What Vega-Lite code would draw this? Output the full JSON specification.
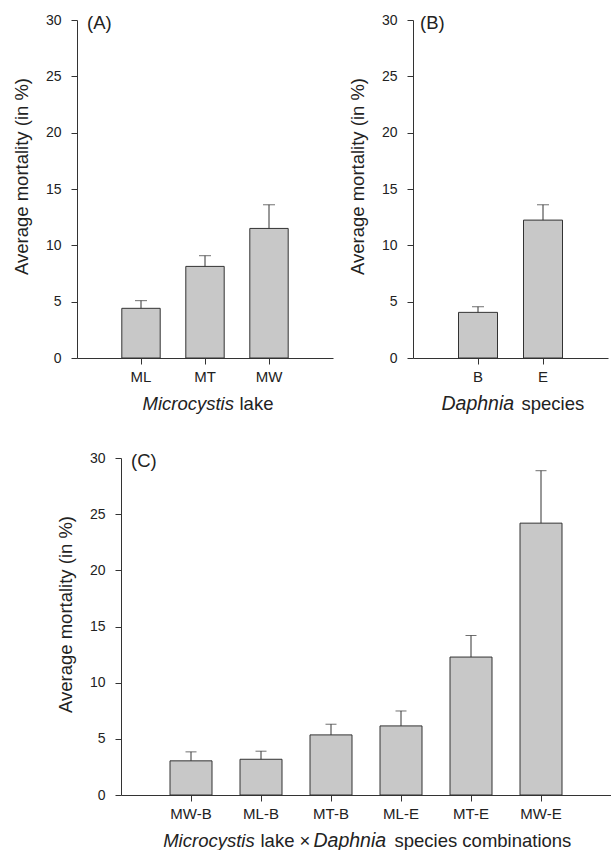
{
  "$schema": "https://vega.github.io/schema/vega-lite/v6.json",
  "background": "white",
  "padding": {"left": 11, "top": 13, "right": 0, "bottom": 0},
  "spacing": 38,
  "datasets": {
    "lake": [
      {"lake": "ML", "mean": 4.41, "upper": 5.09},
      {"lake": "MT", "mean": 8.13, "upper": 9.08},
      {"lake": "MW", "mean": 11.5, "upper": 13.6}
    ],
    "species": [
      {"species": "B", "mean": 4.05, "upper": 4.55},
      {"species": "E", "mean": 12.24, "upper": 13.6}
    ],
    "combo": [
      {"combo": "MW-B", "mean": 3.04, "upper": 3.84},
      {"combo": "ML-B", "mean": 3.18, "upper": 3.9},
      {"combo": "MT-B", "mean": 5.35, "upper": 6.3},
      {"combo": "ML-E", "mean": 6.15, "upper": 7.48},
      {"combo": "MT-E", "mean": 12.28, "upper": 14.2},
      {"combo": "MW-E", "mean": 24.2, "upper": 28.87}
    ]
  },
  "vconcat": [
    {
      "spacing": 0,
      "hconcat": [
        {
          "width": 1,
          "height": 10,
          "data": {"values": []},
          "mark": {"type": "point", "opacity": 0},
          "encoding": {}
        },
        {
          "spacing": 15,
          "hconcat": [
            {
              "width": 256,
              "height": 338,
              "title": {"text": "(A)", "anchor": "start", "frame": "group", "offset": -14, "dx": 10, "dy": 20, "fontSize": 18.5, "fontWeight": "normal", "baseline": "alphabetic", "color": "#222", "font": "Liberation Sans"},
              "data": {"name": "lake"},
              "resolve": {"axis": {"x": "independent"}},
              "layer": [
                {
                  "mark": {"type": "bar", "fill": "#c8c8c8", "stroke": "#333", "strokeWidth": 1},
                  "encoding": {
                    "x": {"field": "lake", "type": "nominal", "sort": null, "scale": {"paddingInner": 0.4, "paddingOuter": 0.7}, "axis": {"orient": "bottom", "labelAngle": 0, "title": "lake", "titleX": 162, "titleY": 51, "titleAlign": "left", "titleBaseline": "alphabetic"}},
                    "y": {"field": "mean", "type": "quantitative", "scale": {"domain": [0, 30], "nice": false}, "axis": {"values": [0, 5, 10, 15, 20, 25, 30], "title": "Average mortality (in %)", "titleY": 156}}
                  }
                },
                {
                  "mark": {"type": "rule", "color": "#333", "strokeWidth": 1},
                  "encoding": {
                    "x": {"field": "lake", "type": "nominal", "sort": null, "axis": {"orient": "bottom", "labels": false, "ticks": false, "domain": false, "title": "Microcystis", "titleFontStyle": "italic", "titleX": 65, "titleY": 51, "titleAlign": "left", "titleBaseline": "alphabetic"}},
                    "y": {"field": "mean", "type": "quantitative"},
                    "y2": {"field": "upper"}
                  }
                },
                {
                  "mark": {"type": "tick", "color": "#333", "size": 12, "thickness": 1},
                  "encoding": {
                    "x": {"field": "lake", "type": "nominal", "sort": null, "axis": null},
                    "y": {"field": "upper", "type": "quantitative"}
                  }
                }
              ]
            },
            {
              "width": 195,
              "height": 338,
              "title": {"text": "(B)", "anchor": "start", "frame": "group", "offset": -14, "dx": 7, "dy": 20, "fontSize": 18.5, "fontWeight": "normal", "baseline": "alphabetic", "color": "#222", "font": "Liberation Sans"},
              "data": {"name": "species"},
              "resolve": {"axis": {"x": "independent"}},
              "layer": [
                {
                  "mark": {"type": "bar", "fill": "#c8c8c8", "stroke": "#333", "strokeWidth": 1},
                  "encoding": {
                    "x": {"field": "species", "type": "nominal", "sort": null, "scale": {"paddingInner": 0.4, "paddingOuter": 0.7}, "axis": {"orient": "bottom", "labelAngle": 0, "title": "species", "titleX": 108, "titleY": 51, "titleAlign": "left", "titleBaseline": "alphabetic"}},
                    "y": {"field": "mean", "type": "quantitative", "scale": {"domain": [0, 30], "nice": false}, "axis": {"values": [0, 5, 10, 15, 20, 25, 30], "title": "Average mortality (in %)", "titleY": 156}}
                  }
                },
                {
                  "mark": {"type": "rule", "color": "#333", "strokeWidth": 1},
                  "encoding": {
                    "x": {"field": "species", "type": "nominal", "sort": null, "axis": {"orient": "bottom", "labels": false, "ticks": false, "domain": false, "title": "Daphnia", "titleFontStyle": "italic", "titleFontSize": 19.5, "titleX": 28, "titleY": 51, "titleAlign": "left", "titleBaseline": "alphabetic"}},
                    "y": {"field": "mean", "type": "quantitative"},
                    "y2": {"field": "upper"}
                  }
                },
                {
                  "mark": {"type": "tick", "color": "#333", "size": 12, "thickness": 1},
                  "encoding": {
                    "x": {"field": "species", "type": "nominal", "sort": null, "axis": null},
                    "y": {"field": "upper", "type": "quantitative"}
                  }
                }
              ]
            }
          ]
        }
      ]
    },
    {
      "spacing": 0,
      "hconcat": [
        {
          "width": 45,
          "height": 10,
          "data": {"values": []},
          "mark": {"type": "point", "opacity": 0},
          "encoding": {}
        },
        {
          "width": 490,
          "height": 337,
          "title": {"text": "(C)", "anchor": "start", "frame": "group", "offset": -14, "dx": 10, "dy": 20, "fontSize": 18.5, "fontWeight": "normal", "baseline": "alphabetic", "color": "#222", "font": "Liberation Sans"},
          "data": {"name": "combo"},
          "resolve": {"axis": {"x": "independent"}},
          "layer": [
            {
              "mark": {"type": "bar", "fill": "#c8c8c8"},
              "encoding": {
                "x": {"field": "combo", "type": "nominal", "sort": null, "scale": {"paddingInner": 0.4, "paddingOuter": 0.7}, "axis": {"orient": "bottom", "labelAngle": 0, "title": "lake ×", "titleX": 139, "titleY": 51, "titleAlign": "left", "titleBaseline": "alphabetic"}},
                "y": {"field": "mean", "type": "quantitative", "scale": {"domain": [0, 30], "nice": false}, "axis": {"values": [0, 5, 10, 15, 20, 25, 30], "title": "Average mortality (in %)", "titleY": 156}}
              }
            },
            {
              "mark": {"type": "bar", "fill": "transparent", "stroke": "#333", "strokeWidth": 1},
              "encoding": {
                "x": {"field": "combo", "type": "nominal", "sort": null, "axis": {"orient": "bottom", "labels": false, "ticks": false, "domain": false, "title": "Daphnia", "titleFontStyle": "italic", "titleFontSize": 19.5, "titleX": 192, "titleY": 51, "titleAlign": "left", "titleBaseline": "alphabetic"}},
                "y": {"field": "mean", "type": "quantitative"}
              }
            },
            {
              "mark": {"type": "rule", "color": "#333", "strokeWidth": 1},
              "encoding": {
                "x": {"field": "combo", "type": "nominal", "sort": null, "axis": {"orient": "bottom", "labels": false, "ticks": false, "domain": false, "title": "Microcystis", "titleFontStyle": "italic", "titleX": 41.7, "titleY": 51, "titleAlign": "left", "titleBaseline": "alphabetic"}},
                "y": {"field": "mean", "type": "quantitative"},
                "y2": {"field": "upper"}
              }
            },
            {
              "mark": {"type": "tick", "color": "#333", "size": 11, "thickness": 1},
              "encoding": {
                "x": {"field": "combo", "type": "nominal", "sort": null, "axis": {"orient": "bottom", "labels": false, "ticks": false, "domain": false, "title": "species combinations", "titleX": 273, "titleY": 51, "titleAlign": "left", "titleBaseline": "alphabetic"}},
                "y": {"field": "upper", "type": "quantitative"}
              }
            }
          ]
        }
      ]
    }
  ],
  "config": {
    "font": "Liberation Sans",
    "view": {"stroke": null},
    "axis": {
      "labelFont": "Liberation Sans",
      "titleFont": "Liberation Sans",
      "labelFontSize": 15,
      "titleFontSize": 18.5,
      "titleFontWeight": "normal",
      "labelColor": "#222",
      "titleColor": "#222",
      "domainColor": "#333",
      "tickColor": "#333",
      "grid": false,
      "tickSize": 6,
      "domainWidth": 1,
      "tickWidth": 1
    },
    "axisY": {"labelPadding": 10, "titlePadding": 14, "labelFontSize": 14},
    "axisX": {"labelPadding": 5}
  }
}
